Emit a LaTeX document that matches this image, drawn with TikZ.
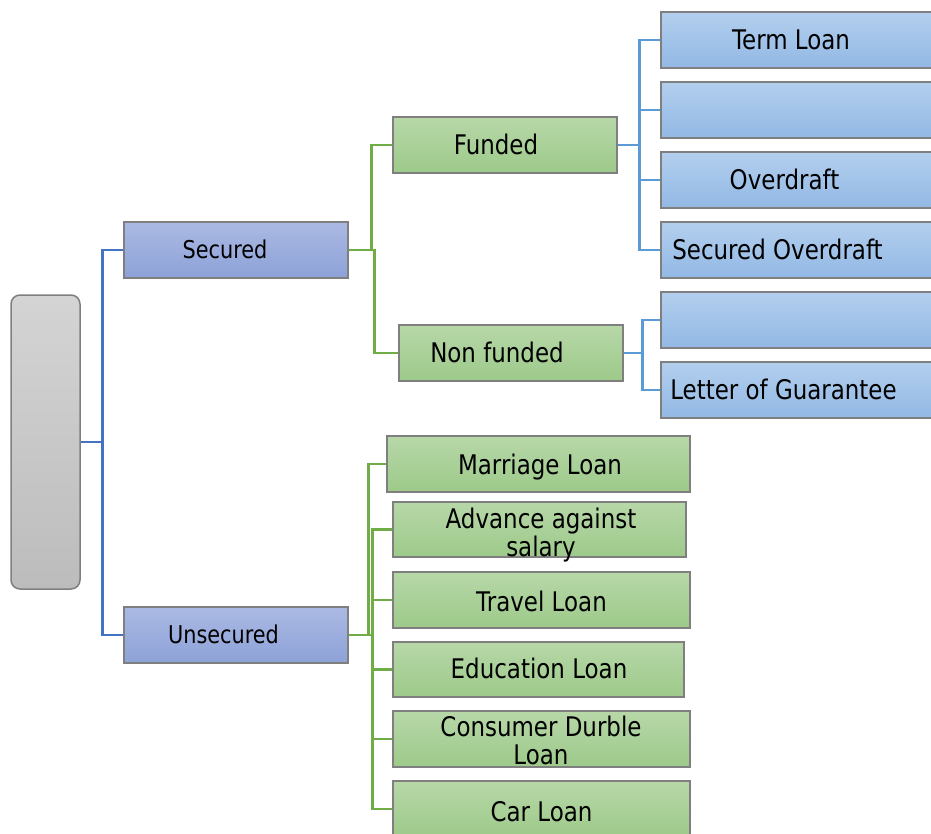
\documentclass[tikz,border=0pt]{standalone}
\usepackage{fontspec}
\setmainfont{DejaVu Sans}[FakeStretch=0.85]
\definecolor{bgray}{HTML}{7F7F7F}
\definecolor{ptop}{HTML}{ABB9E3}
\definecolor{pbot}{HTML}{8DA2D8}
\definecolor{ltop}{HTML}{B3CFEE}
\definecolor{lbot}{HTML}{92B8E4}
\definecolor{gtop}{HTML}{B7D7A8}
\definecolor{gbot}{HTML}{9DCA8A}
\definecolor{rtop}{HTML}{D4D4D4}
\definecolor{rbot}{HTML}{BCBCBC}
\definecolor{conblue}{HTML}{4472C4}
\definecolor{congreen}{HTML}{70AD47}
\definecolor{conlight}{HTML}{5B9BD5}
\begin{document}
\begin{tikzpicture}[x=1pt,y=-1pt,
  anybox/.style={draw=bgray, line width=1.5pt, inner sep=0pt, minimum height=56pt},
  pbox/.style={anybox, top color=ptop, bottom color=pbot, minimum width=224pt},
  lbox/.style={anybox, top color=ltop, bottom color=lbot, minimum width=279pt},
  gbox/.style={anybox, top color=gtop, bottom color=gbot},
  rootbox/.style={draw=bgray, line width=1.5pt, rounded corners=9pt, top color=rtop, bottom color=rbot, inner sep=0pt},
  txt/.style={inner sep=0pt, text height=19.7pt, text depth=0pt, font=\fontsize{27}{28}\selectfont},
  txts/.style={inner sep=0pt, text height=17.9pt, text depth=0pt, font=\fontsize{24.5}{28}\selectfont},
  txt2/.style={inner sep=0pt, align=center, anchor=north, font=\fontsize{27}{28}\selectfont},
  bluecon/.style={draw=conblue, line width=2.8pt},
  greencon/.style={draw=congreen, line width=2.6pt},
  lightcon/.style={draw=conlight, line width=2.6pt}
]
\path[use as bounding box] (0,0) rectangle (931,834);
\clip (0,0) rectangle (931,834);

% root
\node[rootbox, minimum width=69pt, minimum height=294pt] (root) at (45.5,442) {};

% level 1
\node[pbox] (sec) at (236,250) {};
\node[txts] (secT) at (225,250) {Secured};
\node[pbox] (unsec) at (236,635) {};
\node[txts] (unsecT) at (223.5,635) {Unsecured};

% level 2 (secured)
\node[gbox, minimum width=224pt] (fund) at (505,145) {};
\node[txt] (fundT) at (496,145) {Funded};
\node[gbox, minimum width=224pt] (nonf) at (511,353) {};
\node[txt] (nonfT) at (497,353) {Non funded};

% level 3 (funded)
\node[lbox] (term) at (800.5,40) {};
\node[txt] (termT) at (791,40) {Term Loan};
\node[lbox] (blank1) at (800.5,110) {};
\node[lbox] (od) at (800.5,180) {};
\node[txt] (odT) at (784.5,180) {Overdraft};
\node[lbox] (sod) at (800.5,250) {};
\node[txt] (sodT) at (777.5,250) {Secured Overdraft};

% level 3 (non funded)
\node[lbox] (blank2) at (800.5,320) {};
\node[lbox] (log) at (800.5,390) {};
\node[txt] (logT) at (783.5,390) {Letter of Guarantee};

% unsecured children
\node[gbox, minimum width=303pt] (mar) at (538.5,464) {};
\node[txt] (marT) at (540,465) {Marriage Loan};
\node[gbox, minimum width=293pt, minimum height=55pt] (adv) at (539.5,529.5) {};
\node[txt2] (advT) at (541,508) {Advance against\\salary};
\node[gbox, minimum width=297pt] (trav) at (541.5,600) {};
\node[txt] (travT) at (541.5,602) {Travel Loan};
\node[gbox, minimum width=291pt, minimum height=55pt] (edu) at (538.5,669.5) {};
\node[txt] (eduT) at (539,669) {Education Loan};
\node[gbox, minimum width=297pt] (cons) at (541.5,739) {};
\node[txt2] (consT) at (541,716) {Consumer Durble\\Loan};
\node[gbox, minimum width=297pt] (car) at (541.5,809) {};
\node[txt] (carT) at (541.5,812) {Car Loan};

% connectors root
\draw[bluecon] (root.east) -- ++(22,0) |- (sec.west);
\draw[bluecon] (root.east) -- ++(22,0) |- (unsec.west);

% secured -> funded / non funded
\draw[greencon] (sec.east) -- ++(23,0) |- (fund.west);
\draw[greencon] (sec.east) -- ++(26,0) |- (nonf.west);

% funded -> children
\foreach \c in {term,blank1,od,sod}
  \draw[lightcon] (fund.east) -- ++(22,0) |- (\c.west);
% non funded -> children
\foreach \c in {blank2,log}
  \draw[lightcon] (nonf.east) -- ++(19,0) |- (\c.west);

% unsecured -> children
\draw[greencon] (unsec.east) -- ++(20,0) |- (mar.west);
\foreach \c in {adv,trav,edu,cons,car}
  \draw[greencon] (unsec.east) -- ++(24,0) |- (\c.west);
\end{tikzpicture}
\end{document}
